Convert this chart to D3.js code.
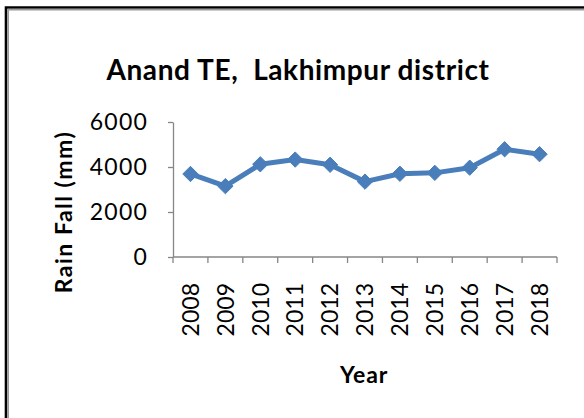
<!DOCTYPE html>
<html>
<head>
<meta charset="utf-8">
<script src="https://cdn.jsdelivr.net/npm/d3@7"></script>
<style>
  html, body { margin: 0; padding: 0; background: #fff; }
  svg { display: block; }
  text { font-family: Lato, "Open Sans", sans-serif; fill: #000; }
</style>
</head>
<body>
<svg id="chart" width="584" height="418"></svg>
<script>
const title = "Anand TE,  Lakhimpur district";
const yAxisTitle = "Rain Fall (mm)";
const xAxisTitle = "Year";
const years = ["2008","2009","2010","2011","2012","2013","2014","2015","2016","2017","2018"];
const rainfall = [3690, 3150, 4120, 4330, 4100, 3350, 3700, 3740, 3970, 4790, 4570];
const yTicks = [0, 2000, 4000, 6000];

const svg = d3.select("#chart");

// outer frame (chart border, clipped at right/bottom)
svg.append("path").attr("d", "M6,430 V7.5 H600")
  .attr("fill", "none").attr("stroke", "#000").attr("stroke-width", 2.6);
svg.append("path").attr("d", "M8.2,430 V9.6 H600")
  .attr("fill", "none").attr("stroke", "#9a9a9a").attr("stroke-width", 1.6);

const x = d3.scaleBand().domain(years).range([173, 557]).padding(0);
const y = d3.scaleLinear().domain([0, 6000]).range([257, 122]);

const axisColor = "#868686";

// Y axis
const yAxis = svg.append("g").attr("transform", "translate(173,0)")
  .call(d3.axisLeft(y).tickValues(yTicks).tickSize(5).tickSizeOuter(0).tickPadding(20).tickFormat(d3.format("d")));
yAxis.select(".domain").attr("stroke", axisColor).attr("stroke-width", 1.3);
yAxis.selectAll(".tick line").attr("stroke", axisColor).attr("stroke-width", 1.3);
yAxis.selectAll(".tick text").style("font-family", "Lato").style("font-size", "23px")
  .style("letter-spacing", "1.2px").attr("fill", "#000");

// X axis (ticks at category boundaries)
const xg = svg.append("g");
xg.append("line").attr("x1", x.range()[0]).attr("x2", x.range()[1])
  .attr("y1", y(0)).attr("y2", y(0)).attr("stroke", axisColor).attr("stroke-width", 1.3);
const bounds = years.map(d => x(d)).concat([x.range()[1]]);
xg.selectAll("line.tk").data(bounds).enter().append("line").attr("class", "tk")
  .attr("x1", d => d).attr("x2", d => d).attr("y1", y(0)).attr("y2", y(0) + 6)
  .attr("stroke", axisColor).attr("stroke-width", 1.3);
xg.selectAll("text.yr").data(years).enter().append("text").attr("class", "yr")
  .attr("transform", d => `translate(${x(d) + x.bandwidth() / 2},${y(0) + 26}) rotate(-90)`)
  .attr("text-anchor", "end").attr("dy", "0.36em")
  .style("font-size", "23px").text(d => d);

// line
const pts = years.map((d, i) => [x(d) + x.bandwidth() / 2, y(rainfall[i])]);
svg.append("path").attr("d", d3.line()(pts))
  .attr("fill", "none").attr("stroke", "#4a7ebb").attr("stroke-width", 5).attr("stroke-linejoin", "round");
svg.selectAll("path.mk").data(pts).enter().append("path").attr("class", "mk")
  .attr("d", d3.symbol().type(d3.symbolDiamond2).size(150)())
  .attr("transform", d => `translate(${d[0]},${d[1]})`)
  .attr("fill", "#4a7ebb").attr("stroke", "#4a7ebb").attr("stroke-width", 1);

// titles
svg.append("text").attr("x", 298).attr("y", 80).attr("text-anchor", "middle")
  .style("white-space", "pre").attr("xml:space", "preserve")
  .style("font-size", "28px").style("font-weight", "bold").style("letter-spacing", "0.6px").text(title);
svg.append("text").attr("transform", "translate(72,212) rotate(-90)").attr("text-anchor", "middle")
  .style("font-size", "23px").style("font-weight", "bold").style("letter-spacing", "1.5px").text(yAxisTitle);
svg.append("text").attr("x", 364).attr("y", 383).attr("text-anchor", "middle")
  .style("font-size", "23px").style("font-weight", "bold").style("letter-spacing", "0.8px").text(xAxisTitle);
</script>
</body>
</html>
